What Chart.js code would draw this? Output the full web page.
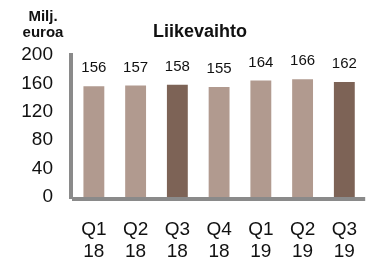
<!DOCTYPE html>
<html>
<head>
<meta charset="utf-8">
<script src="https://cdn.jsdelivr.net/npm/chart.js@4.4.1/dist/chart.umd.min.js"></script>
<style>
  html, body { margin: 0; padding: 0; background: #fff; }
  #wrap { width: 378px; height: 264px; }
</style>
</head>
<body>
<div id="wrap"><canvas id="myChart" width="378" height="264"></canvas></div>
<script>
// data
const quarters = ["Q1", "Q2", "Q3", "Q4", "Q1", "Q2", "Q3"]
const years = ["18", "18", "18", "18", "19", "19", "19"]
const revenue = [156, 157, 158, 155, 164, 166, 162]
const y_ticks = [0, 40, 80, 120, 160, 200]

const title = "Liikevaihto"
const unit_lines = ["Milj.", "euroa"]

const light = "#B19A8F"
const dark = "#7D6356"
const axis_grey = "#8A8A8A"
const font_family = "'Liberation Sans', Arial, sans-serif"

let labels = quarters.map((q, i) => [q, years[i]])
let bar_colors = quarters.map(q => q == "Q3" ? dark : light)

// thick grey axis lines like the original
const axis_plugin = {
    id: "axes",
    beforeDatasetsDraw(chart) {
        const ctx = chart.ctx
        const a = chart.chartArea
        ctx.save()
        ctx.fillStyle = axis_grey
        ctx.fillRect(a.left - 4, a.top - 2, 4, a.bottom - a.top + 4)
        ctx.fillRect(a.left - 1, a.bottom, a.right - a.left + 1, 4)
        ctx.restore()
    }
}

// value labels above bars + title texts
const text_plugin = {
    id: "texts",
    afterDatasetsDraw(chart) {
        const ctx = chart.ctx
        ctx.save()
        ctx.fillStyle = "#111"
        ctx.textAlign = "center"
        ctx.textBaseline = "alphabetic"
        ctx.font = "15px " + font_family
        const meta = chart.getDatasetMeta(0)
        meta.data.forEach((bar, i) => {
            ctx.fillText(String(revenue[i]), bar.x, bar.y - 14)
        })
        ctx.font = "bold 18px " + font_family
        ctx.fillText(title, 200, 37)
        ctx.font = "bold 15px " + font_family
        ctx.fillText(unit_lines[0], 43, 21)
        ctx.fillText(unit_lines[1], 43, 37)
        ctx.restore()
    }
}

const ctx = document.getElementById('myChart').getContext('2d')

new Chart(ctx, {
    type: 'bar',
    data: {
        labels: labels,
        datasets: [{
            data: revenue,
            backgroundColor: bar_colors,
            borderWidth: 0,
            barPercentage: 0.5,
            categoryPercentage: 1.0
        }]
    },
    options: {
        responsive: false,
        animation: false,
        devicePixelRatio: 1,
        layout: {
            padding: { top: 55, right: 0, bottom: 0, left: 0 }
        },
        plugins: {
            legend: { display: false },
            title: { display: false },
            tooltip: { enabled: false }
        },
        scales: {
            x: {
                grid: { display: false, drawTicks: false },
                border: { display: false },
                ticks: {
                    color: "#111",
                    font: { family: font_family, size: 19, lineHeight: 1.2 },
                    padding: 21,
                    maxRotation: 0,
                    autoSkip: false
                },
                afterFit(scale) { scale.height = 67 }
            },
            y: {
                min: 0,
                max: 200,
                grid: { display: false, drawTicks: false },
                border: { display: false },
                afterBuildTicks(scale) {
                    scale.ticks = y_ticks.map(v => ({ value: v }))
                },
                ticks: {
                    color: "#111",
                    font: { family: font_family, size: 19 },
                    padding: 20
                },
                afterFit(scale) { scale.width = 73 }
            }
        }
    },
    plugins: [axis_plugin, text_plugin]
})
</script>
</body>
</html>
